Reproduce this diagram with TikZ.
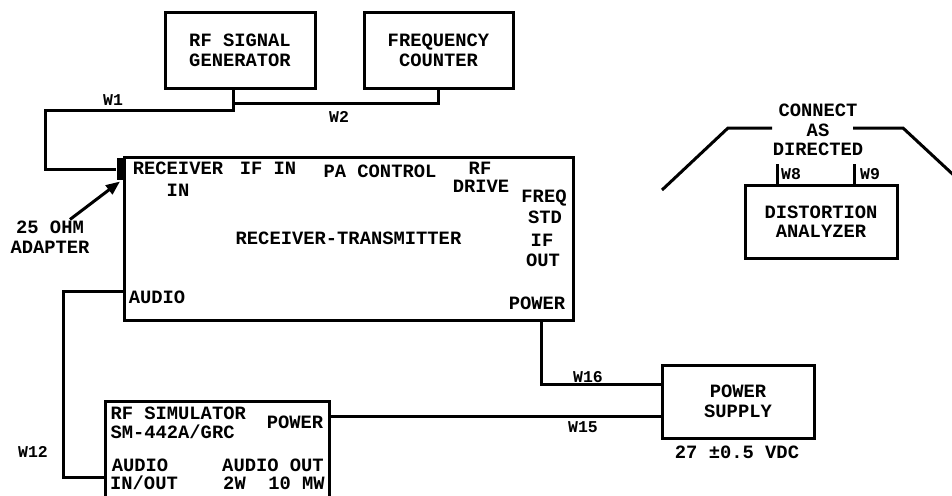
\documentclass[tikz,border=0pt]{standalone}
\usepackage{fontspec}
\setmonofont{Liberation Mono}
\usetikzlibrary{arrows.meta,calc}

\begin{document}
\begin{tikzpicture}[x=1pt,y=-1pt,line width=3pt,
  font=\ttfamily\bfseries\fontsize{18.8}{19.5}\selectfont,
  box/.style={draw,align=center,inner sep=0pt},
  txt/.style={inner sep=0pt,align=center},
  wire/.style={inner sep=0pt,font=\ttfamily\bfseries\fontsize{16.5}{18}\selectfont}]
\clip (0,0) rectangle (952,495);
\node[box,minimum width=150pt,minimum height=75pt] (gen) at (240,50.5) {RF SIGNAL\\GENERATOR};
\node[box,minimum width=149pt,minimum height=75pt] (cnt) at (438.5,50.5) {FREQUENCY\\COUNTER};
\node[box,minimum width=449pt,minimum height=163pt] (rt) at (348.5,238.5) {RECEIVER-TRANSMITTER};
\node[fill,inner sep=0pt,minimum width=6pt,minimum height=22pt] (adp) at (120,169) {};
\node[txt] (ohm) at (50,237) {25 OHM\\ADAPTER};
\draw[-{Triangle[length=14pt,width=11pt]}] ([xshift=20pt]ohm.north) -- (adp.south);
\foreach \i/\x/\y/\t in {1/178/168/RECEIVER,2/178/190/IN,3/268/168/IF IN,4/380/171/PA CONTROL,5/480/168/RF,6/481/186/DRIVE,7/544/198/FREQ,8/545/217/STD,9/542/240/IF,10/543/260/OUT,11/537/303/POWER,12/157/297/AUDIO}
  \node[txt] (rt\i) at (\x,\y) {\t};
\node[box,minimum width=224pt,minimum height=110pt] (sim) at (217,456) {};
\foreach \i/\a/\x/\y/\t in {1/west/109/413/RF SIMULATOR,2/west/109/432/{SM-442A/GRC},3/center/295/422/POWER,4/center/140/465/AUDIO,5/center/144/483/{IN/OUT},6/center/273/465/AUDIO OUT,7/center/274/483/2W~~10 MW}
  \node[txt,anchor=\a] (sim\i) at (\x,\y) {\t};
\node[box,minimum width=152pt,minimum height=73pt] (ps) at (738,401.5) {POWER\\SUPPLY};
\node[txt] (vdc) at (737,452) {27 ±0.5 VDC};
\node[box,minimum width=152pt,minimum height=73pt] (dist) at (821,221.5) {DISTORTION\\ANALYZER};
\node[txt] (conn) at (818,130) {CONNECT\\AS\\DIRECTED};
\draw ($(dist.north west)+(34,0)$) -- ++(0,-20);
\draw ($(dist.north west)+(111,0)$) -- ++(0,-20);
\draw (772,128) -- (728,128) -- (662,190);
\draw (853,128) -- (903,128) -- (960,181);
\coordinate (gtap) at ([xshift=-7pt]gen.south);
\draw (gtap) |- (45,110) |- (adp.west);
\draw (cnt.south) |- ($(gtap)+(0,14)$);
\draw ($(rt.south west)+(0,-30)$) -| (63,400) |- ($(sim.north west)+(0,78)$);
\draw ($(rt.south east)+(-33,0)$) |- ($(ps.north west)+(0,21)$);
\draw ($(sim.north east)+(0,17)$) coordinate (sp) -- (sp -| ps.west);
\foreach \i/\x/\y/\t in {1/113/100/W1,2/339/117/W2,12/33/452/W12,15/583/427/W15,16/588/377/W16,8/791/174/W8,9/870/174/W9}
  \node[wire] (w\i) at (\x,\y) {\t};
\end{tikzpicture}
\end{document}
